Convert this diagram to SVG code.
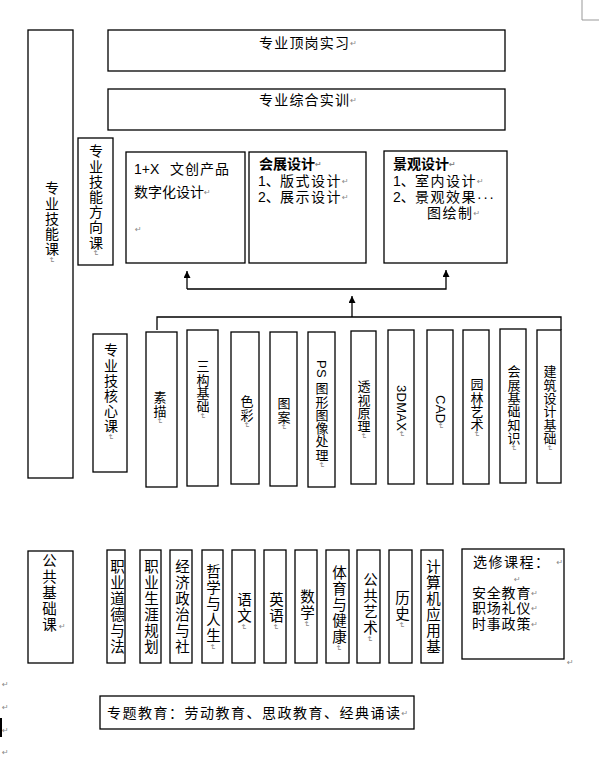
<svg xmlns="http://www.w3.org/2000/svg" width="599" height="761" viewBox="0 0 599 761">
<style>
.box{fill:#fff;stroke:#000;stroke-width:1.3}
.t{font-family:"Liberation Sans","Noto Sans CJK SC",sans-serif;font-size:14px;fill:#000}
.v{font-family:"Liberation Sans","Noto Sans CJK SC",sans-serif;writing-mode:vertical-rl;fill:#000}
.c13{font-size:13px;letter-spacing:0.3px}
.c14{font-size:14px;letter-spacing:1.2px}
.c15{font-size:14.5px;letter-spacing:1.5px}
.m{fill:#888;font-family:"DejaVu Sans",sans-serif;font-size:8px;letter-spacing:0}
.b{font-weight:bold}
.conn{fill:none;stroke:#000;stroke-width:1.3}
</style>
<defs>
<marker id="ah" viewBox="0 0 10 10" refX="10" refY="5" markerWidth="9" markerHeight="7" orient="auto" markerUnits="userSpaceOnUse"><path d="M0,0 L10,5 L0,10 z" fill="#000"/></marker>
</defs>
<rect width="599" height="761" fill="#fff"/>
<polyline points="582,0 582,20 599,20" fill="none" stroke="#999" stroke-width="1"/>

<g id="connectors">
<path class="conn" d="M187,289 L187,271" marker-end="url(#ah)"/>
<path class="conn" d="M187,289 L446,289 L446,270" marker-end="url(#ah)"/>
<path class="conn" d="M352,317 L352,296" marker-end="url(#ah)"/>
<path class="conn" d="M157,330 L157,317 L561,317 L561,330"/>
</g>

<g id="n-zhuanye-jineng">
<rect class="box" x="28" y="30" width="45" height="448"/>
<text class="v c14" x="51" y="181">专业技能课<tspan class="m">↵</tspan></text>
</g>
<g id="n-dinggang">
<rect class="box" x="108" y="30" width="397" height="41"/>
<text class="t" x="259" y="43" dominant-baseline="central" letter-spacing="1.2">专业顶岗实习<tspan class="m">↵</tspan></text>
</g>
<g id="n-zonghe">
<rect class="box" x="108" y="89" width="397" height="41"/>
<text class="t" x="259" y="100" dominant-baseline="central" letter-spacing="1.2">专业综合实训<tspan class="m">↵</tspan></text>
</g>
<g id="n-fangxiang">
<rect class="box" x="78" y="138" width="35" height="127"/>
<text class="v c14" x="95" y="144" letter-spacing="1.8">专业技能方向课<tspan class="m">↵</tspan></text>
</g>
<g id="n-1x">
<rect class="box" x="126" y="152" width="119" height="111"/>
<text class="t" x="134" y="169" dominant-baseline="central">1+X <tspan x="170" letter-spacing="1">文创产品</tspan></text>
<text class="t" x="134" y="192" dominant-baseline="central">数字化设计<tspan class="m">↵</tspan></text>
<text class="m" x="135" y="229" dominant-baseline="central">↵</text>
</g>
<g id="n-huizhan">
<rect class="box" x="249" y="152" width="117" height="111"/>
<text class="t b" x="259" y="164" dominant-baseline="central">会展设计<tspan class="m">↵</tspan></text>
<text class="t" x="258" y="181" dominant-baseline="central">1、<tspan x="280" letter-spacing="1.5">版式设计</tspan><tspan class="m">↵</tspan></text>
<text class="t" x="258" y="197" dominant-baseline="central">2、<tspan x="280" letter-spacing="1.5">展示设计</tspan><tspan class="m">↵</tspan></text>
</g>
<g id="n-jingguan">
<rect class="box" x="384" y="151" width="123" height="112"/>
<text class="t b" x="393" y="164" dominant-baseline="central">景观设计<tspan class="m">↵</tspan></text>
<text class="t" x="393" y="181" dominant-baseline="central">1、<tspan x="415" letter-spacing="1.5">室内设计</tspan><tspan class="m">↵</tspan></text>
<text class="t" x="393" y="197" dominant-baseline="central">2、<tspan x="415" letter-spacing="1.5">景观效果···</tspan></text>
<text class="t" x="427" y="213" dominant-baseline="central" letter-spacing="1.5">图绘制<tspan class="m">↵</tspan></text>
</g>

<g id="n-hexin">
<rect class="box" x="93" y="334" width="34" height="138"/>
<text class="v c14" x="110" y="343">专业技核心课<tspan class="m">↵</tspan></text>
</g>
<g id="n-sumiao">
<rect class="box" x="146" y="332" width="31" height="155"/>
<text class="v c13" x="159" y="391">素描<tspan class="m">↵</tspan></text>
</g>
<g id="n-sangou">
<rect class="box" x="187" y="330" width="31" height="156"/>
<text class="v c13" x="202" y="360">三构基础<tspan class="m">↵</tspan></text>
</g>
<g id="n-secai">
<rect class="box" x="231" y="332" width="28" height="152"/>
<text class="v c13" x="246" y="395">色彩<tspan class="m">↵</tspan></text>
</g>
<g id="n-tuan">
<rect class="box" x="270" y="332" width="27" height="154"/>
<text class="v c13" x="283" y="397">图案<tspan class="m">↵</tspan></text>
</g>
<g id="n-ps">
<rect class="box" x="308" y="332" width="27" height="155"/>
<text class="v c13" x="321" y="360">PS 图形图像处理<tspan class="m">↵</tspan></text>
</g>
<g id="n-toushi">
<rect class="box" x="351" y="331" width="25" height="153"/>
<text class="v c13" x="363" y="380">透视原理<tspan class="m">↵</tspan></text>
</g>
<g id="n-3dmax">
<rect class="box" x="388" y="330" width="26" height="154"/>
<text class="v c13" x="401" y="385">3DMAX<tspan class="m">↵</tspan></text>
</g>
<g id="n-cad">
<rect class="box" x="427" y="330" width="26" height="154"/>
<text class="v c13" x="440" y="395">CAD<tspan class="m">↵</tspan></text>
</g>
<g id="n-yuanlin">
<rect class="box" x="463" y="330" width="26" height="154"/>
<text class="v c13" x="476" y="378">园林艺术<tspan class="m">↵</tspan></text>
</g>
<g id="n-huizhanjichu">
<rect class="box" x="500" y="329" width="26" height="154"/>
<text class="v c13" x="513" y="365">会展基础知识<tspan class="m">↵</tspan></text>
</g>
<g id="n-jianzhu">
<rect class="box" x="537" y="330" width="24" height="153"/>
<text class="v c13" x="549" y="365">建筑设计基础<tspan class="m">↵</tspan></text>
</g>

<g id="n-gonggong">
<rect class="box" x="28" y="551" width="45" height="112"/>
<text class="v c15" x="48" y="553">公共基础课</text>
<text class="m" x="59" y="626" dominant-baseline="central">↵</text>
</g>
<g id="n-daode">
<rect class="box" x="107" y="550" width="18" height="113"/>
<text class="v c15" x="116" y="559" letter-spacing="1.9">职业道德与法</text>
</g>
<g id="n-shengya">
<rect class="box" x="140" y="550" width="21" height="113"/>
<text class="v c15" x="150" y="559" letter-spacing="1.9">职业生涯规划</text>
</g>
<g id="n-jingji">
<rect class="box" x="170" y="550" width="22" height="113"/>
<text class="v c15" x="181" y="559" letter-spacing="1.9">经济政治与社</text>
</g>
<g id="n-zhexue">
<rect class="box" x="202" y="550" width="21" height="113"/>
<text class="v c15" x="212" y="564">哲学与人生<tspan class="m">↵</tspan></text>
</g>
<g id="n-yuwen">
<rect class="box" x="232" y="550" width="23" height="113"/>
<text class="v c15" x="243" y="592" letter-spacing="0">语文<tspan class="m">↵</tspan></text>
</g>
<g id="n-yingyu">
<rect class="box" x="264" y="550" width="22" height="113"/>
<text class="v c15" x="275" y="592" letter-spacing="0">英语<tspan class="m">↵</tspan></text>
</g>
<g id="n-shuxue">
<rect class="box" x="295" y="550" width="22" height="113"/>
<text class="v c15" x="306" y="589" letter-spacing="0.5">数学<tspan class="m">↵</tspan></text>
</g>
<g id="n-tiyu">
<rect class="box" x="326" y="550" width="23" height="113"/>
<text class="v c15" x="338" y="565" letter-spacing="0">体育与健康<tspan class="m">↵</tspan></text>
</g>
<g id="n-yishu">
<rect class="box" x="357" y="550" width="23" height="113"/>
<text class="v c15" x="369" y="572" letter-spacing="0.3">公共艺术<tspan class="m">↵</tspan></text>
</g>
<g id="n-lishi">
<rect class="box" x="389" y="550" width="23" height="113"/>
<text class="v c15" x="401" y="590" letter-spacing="0">历史<tspan class="m">↵</tspan></text>
</g>
<g id="n-jisuanji">
<rect class="box" x="421" y="550" width="22" height="113"/>
<text class="v c15" x="432" y="559" letter-spacing="0.8">计算机应用基</text>
</g>
<g id="n-xuanxiu">
<rect class="box" x="462" y="549" width="102" height="110"/>
<text class="t" x="473" y="562" dominant-baseline="central" font-size="15" letter-spacing="1.5">选修课程：<tspan class="m" dx="6">↵</tspan></text>
<text class="m" x="514" y="579" dominant-baseline="central">↵</text>
<text class="t" x="472" y="593" dominant-baseline="central" font-size="15" letter-spacing="0.8">安全教育<tspan class="m">↵</tspan></text>
<text class="t" x="472" y="608" dominant-baseline="central" font-size="15" letter-spacing="0.8">职场礼仪<tspan class="m">↵</tspan></text>
<text class="t" x="472" y="624" dominant-baseline="central" font-size="15" letter-spacing="0.8">时事政策<tspan class="m">↵</tspan></text>
</g>
<text class="m" x="567" y="662" dominant-baseline="central">↵</text>

<g id="n-zhuanti">
<rect class="box" x="100" y="696" width="314" height="33"/>
<text class="t" x="107" y="713" dominant-baseline="central" font-size="14.5" letter-spacing="1.5">专题教育：劳动教育、思政教育、经典诵读<tspan class="m">↵</tspan></text>
</g>

<text class="m" x="2" y="684" dominant-baseline="central">↵</text>
<text class="m" x="2" y="707" dominant-baseline="central">↵</text>
<text class="m" x="2" y="730" dominant-baseline="central">↵</text>
<text class="m" x="2" y="752" dominant-baseline="central">↵</text>
<rect x="0" y="718" width="2" height="19" fill="#000"/>
</svg>
